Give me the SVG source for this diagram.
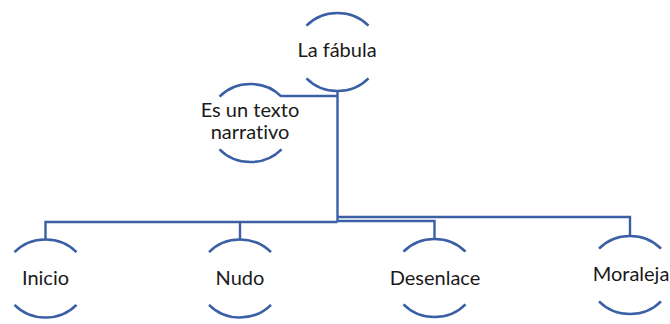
<svg xmlns="http://www.w3.org/2000/svg" width="670" height="324" viewBox="0 0 670 324">
<style>
.arc{fill:none;stroke:#3A5FA5;stroke-width:2.6}
.conn{fill:none;stroke:#3A5FA5;stroke-width:2.4}
text{font-family:Lato,"Liberation Sans",sans-serif;font-size:20px;fill:#1a1a1a;text-anchor:middle;font-variant-ligatures:none;font-feature-settings:"liga" 0}
</style>
<rect width="670" height="324" fill="#ffffff"/>
<g id="connectors">
<path class="conn" d="M337.5 91 V222"/>
<path class="conn" d="M337.5 96 H281.5"/>
<path class="conn" d="M337.5 222 H45.5 V239.5"/>
<path class="conn" d="M240 222 V239.5"/>
<path class="conn" d="M337.5 221 H434.5 V239"/>
<path class="conn" d="M337.5 217 H630 V236"/>
</g>
<g id="la-fabula">
<path class="arc" d="M306.5 25.7 A42 39 0 0 1 368.5 25.7"/>
<path class="arc" d="M306.5 78.3 A42 39 0 0 0 368.5 78.3"/>
<text x="337" y="57">La fábula</text>
</g>
<g id="es-un-texto">
<path class="arc" d="M219.5 96.7 A42 39 0 0 1 281.5 96.7"/>
<path class="arc" d="M219.5 149.3 A42 39 0 0 0 281.5 149.3"/>
<text x="250" y="116.7">Es un texto</text>
<text x="250" y="138.5">narrativo</text>
</g>
<g id="inicio">
<path class="arc" d="M14.5 252.2 A42 39 0 0 1 76.5 252.2"/>
<path class="arc" d="M14.5 304.8 A42 39 0 0 0 76.5 304.8"/>
<text x="45.5" y="285">Inicio</text>
</g>
<g id="nudo">
<path class="arc" d="M209 252.2 A42 39 0 0 1 271 252.2"/>
<path class="arc" d="M209 304.8 A42 39 0 0 0 271 304.8"/>
<text x="240" y="285">Nudo</text>
</g>
<g id="desenlace">
<path class="arc" d="M403.5 251.7 A42 39 0 0 1 465.5 251.7"/>
<path class="arc" d="M403.5 304.3 A42 39 0 0 0 465.5 304.3"/>
<text x="435" y="285">Desenlace</text>
</g>
<g id="moraleja">
<path class="arc" d="M599 248.7 A42 39 0 0 1 661 248.7"/>
<path class="arc" d="M599 301.3 A42 39 0 0 0 661 301.3"/>
<text x="631" y="280.5">Moraleja</text>
</g>
</svg>
